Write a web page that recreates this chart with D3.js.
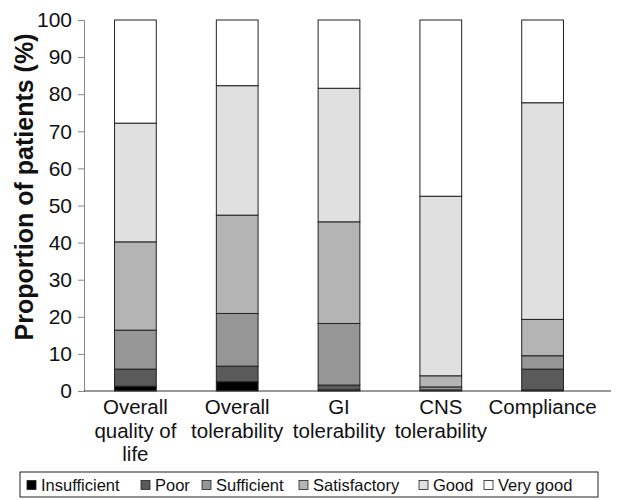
<!DOCTYPE html>
<html>
<head>
<meta charset="utf-8">
<script src="https://cdn.jsdelivr.net/npm/d3@7.9.0/dist/d3.min.js"></script>
<style>
  body { margin: 0; background: #fff; }
  text { font-family: "Liberation Sans", Arial, sans-serif; }
</style>
</head>
<body>
<svg id="chart" width="621" height="500"></svg>
<script>
const categories = [
  ['Overall', 'quality of', 'life'],
  ['Overall', 'tolerability'],
  ['GI', 'tolerability'],
  ['CNS', 'tolerability'],
  ['Compliance']
];
const ratings = ['Insufficient', 'Poor', 'Sufficient', 'Satisfactory', 'Good', 'Very good'];
const colours = ['#000000', '#5a5a5a', '#969696', '#b4b4b4', '#e0e0e0', '#ffffff'];

// percentage of patients per rating, one array per category
const insufficient = [1.3, 2.5, 0.3, 0.0, 0.3];
const poor         = [4.6, 4.2, 1.3, 0.3, 5.6];
const sufficient   = [10.5, 14.2, 16.6, 0.8, 3.6];
const satisfactory = [23.8, 26.5, 27.4, 3.0, 9.8];
const good         = [32.0, 34.9, 36.0, 48.4, 58.4];
const veryGood     = [27.8, 17.7, 18.4, 47.5, 22.3];

const series = [insufficient, poor, sufficient, satisfactory, good, veryGood];
const ids = categories.map((_, i) => i);
const rows = ids.map(i => {
  const r = { id: i };
  ratings.forEach((k, j) => r[k] = series[j][i]);
  return r;
});

const svg = d3.select('#chart');
const x = d3.scaleBand().domain(ids).range([84, 594]).paddingInner(0.59).paddingOuter(0.3);
const y = d3.scaleLinear().domain([0, 100]).range([391, 20]);

// y axis
const yAxis = svg.append('g').attr('transform', 'translate(84,0)')
  .call(d3.axisLeft(y).tickValues(d3.range(0, 101, 10)).tickSize(6).tickPadding(6));
yAxis.select('.domain').attr('stroke', '#888');
yAxis.selectAll('.tick line').attr('stroke', '#888');
yAxis.selectAll('.tick text').attr('font-size', 21).attr('fill', '#111');

svg.append('text')
  .attr('transform', `translate(33,187) rotate(-90)`)
  .attr('text-anchor', 'middle')
  .attr('font-size', 25).attr('font-weight', 'bold')
  .attr('fill', '#111')
  .text('Proportion of patients (%)');

// stacked bars
const stacked = d3.stack().keys(ratings)(rows);
svg.append('g').selectAll('g')
  .data(stacked)
  .join('g')
    .attr('fill', (d, i) => colours[i])
  .selectAll('rect')
  .data(d => d.filter(p => p[1] - p[0] > 0))
  .join('rect')
    .attr('x', d => x(d.data.id))
    .attr('width', x.bandwidth())
    .attr('y', d => y(d[1]))
    .attr('height', d => y(d[0]) - y(d[1]))
    .attr('stroke', '#222')
    .attr('stroke-width', 1);

// x axis line
svg.append('line')
  .attr('x1', 84).attr('x2', 611)
  .attr('y1', y(0)).attr('y2', y(0))
  .attr('stroke', '#333').attr('stroke-width', 1.2);

// category labels
const lab = svg.append('g').selectAll('text')
  .data(categories)
  .join('text')
    .attr('text-anchor', 'middle')
    .attr('font-size', 20.5).attr('fill', '#111')
    .attr('x', (d, i) => x(i) + x.bandwidth() / 2)
    .attr('y', 414);
lab.selectAll('tspan')
  .data(d => d)
  .join('tspan')
    .attr('x', function () { return this.parentNode.getAttribute('x'); })
    .attr('dy', (d, i) => i === 0 ? 0 : 23.5)
    .text(d => d);

// legend
const lg = svg.append('g');
lg.append('rect')
  .attr('x', 20).attr('y', 472).attr('width', 578).attr('height', 25)
  .attr('fill', '#fff').attr('stroke', '#222').attr('stroke-width', 1);
const legendX = [27, 141, 202, 299, 419, 484];
const item = lg.selectAll('g.item')
  .data(ratings)
  .join('g')
    .attr('class', 'item')
    .attr('transform', (d, i) => `translate(${legendX[i]},485)`);
item.append('rect')
  .attr('x', 0).attr('y', -4.5).attr('width', 9).attr('height', 9)
  .attr('fill', (d, i) => colours[i])
  .attr('stroke', '#222').attr('stroke-width', 0.8);
item.append('text')
  .attr('x', 14).attr('y', 6)
  .attr('font-size', 16.5).attr('fill', '#111')
  .text(d => d);
</script>
</body>
</html>
